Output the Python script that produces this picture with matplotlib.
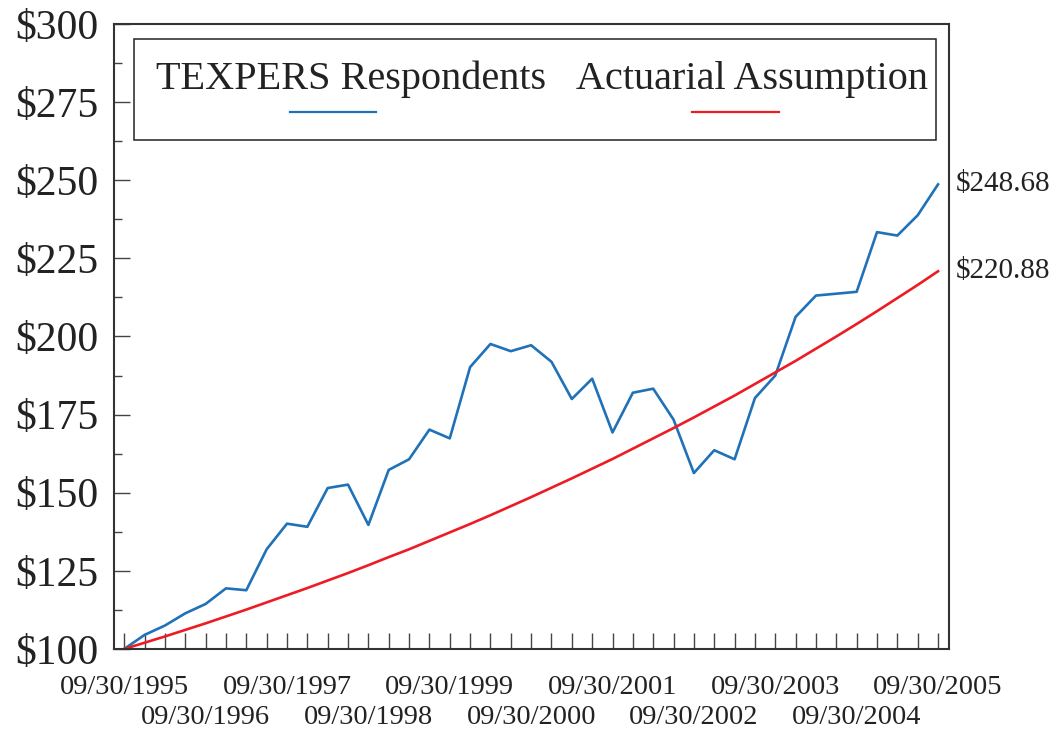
import matplotlib
matplotlib.use("Agg")
import matplotlib.pyplot as plt
import numpy as np
from matplotlib.lines import Line2D
from matplotlib.patches import Rectangle
from matplotlib.ticker import FuncFormatter, MultipleLocator

plt.rcParams["font.family"] = ["Liberation Serif", "DejaVu Serif"]
plt.rcParams["text.color"] = "#222222"
plt.rcParams["xtick.labelcolor"] = "#222222"
plt.rcParams["ytick.labelcolor"] = "#222222"

# quarterly values, 09/30/1995 .. 09/30/2005 (growth of $100)
respondents = [
    100.0, 104.5, 107.5, 111.4, 114.4, 119.4, 118.8, 131.9, 140.1, 139.1,
    151.5, 152.6, 139.7, 157.3, 160.7, 170.2, 167.4, 190.2, 197.6, 195.3,
    197.2, 191.9, 180.0, 186.5, 169.3, 182.0, 183.3, 173.4, 156.3, 163.6,
    160.7, 180.3, 187.5, 206.3, 213.1, 213.7, 214.3, 233.4, 232.3, 238.8,
    248.68,
]
actuarial = [
    100.0, 102.0, 104.0, 106.1, 108.2, 110.4, 112.6, 114.9, 117.2, 119.5,
    121.9, 124.3, 126.8, 129.4, 131.9, 134.6, 137.3, 140.0, 142.8, 145.7,
    148.6, 151.6, 154.6, 157.7, 160.8, 164.1, 167.4, 170.7, 174.1, 177.6,
    181.1, 184.8, 188.5, 192.2, 196.1, 200.0, 204.0, 208.1, 212.3, 216.5,
    220.88,
]
year_labels = [f"09/30/{y}" for y in range(1995, 2006)]
series_names = ["TEXPERS Respondents", "Actuarial Assumption"]
colors = ["#1f72b8", "#ed1c24"]

quarters = np.arange(len(respondents))

fig = plt.figure(figsize=(10.58, 7.30), dpi=100, facecolor="white")
ax = fig.add_axes([0.1078, 0.1110, 0.7892, 0.8561])

ax.plot(quarters, respondents, color=colors[0], lw=1.9)
ax.plot(quarters, actuarial, color=colors[1], lw=1.9)

ax.set_xlim(-0.5, 40.54)
ax.set_ylim(100, 300)

# y axis
ax.yaxis.set_major_locator(MultipleLocator(25))
ax.yaxis.set_minor_locator(MultipleLocator(12.5))
ax.yaxis.set_major_formatter(FuncFormatter(lambda v, p: f"${v:.0f}"))
ax.tick_params(axis="y", which="major", direction="in", length=11.5, width=1,
               color="#444444", labelsize=30, pad=11)
ax.tick_params(axis="y", which="minor", direction="in", length=6, width=1,
               color="#444444")

# x axis: year labels on two alternating rows, quarter ticks
ax.set_xticks(quarters[::4])
ax.set_xticklabels(year_labels)
ax.xaxis.set_minor_locator(MultipleLocator(1))
ax.tick_params(axis="x", which="both", direction="in", length=11.5, width=1,
               color="#444444", labelsize=20.5)
for i, t in enumerate(ax.xaxis.get_major_ticks()):
    t.set_pad(19 if i % 2 == 0 else 40)

for s in ax.spines.values():
    s.set_color("#333333")
    s.set_linewidth(1.5)

# end-value labels
for vals in (respondents, actuarial):
    ax.annotate(f"${vals[-1]:.2f}", xy=(quarters[-1], vals[-1]), xytext=(18, 0),
                textcoords="offset pixels", ha="left", va="center",
                fontsize=21, annotation_clip=False)

# legend box (text above sample line)
ax.add_patch(Rectangle((0.024, 0.814), 0.960, 0.162, transform=ax.transAxes,
                       fill=True, fc="white", ec="#222222", lw=1.1, zorder=5))
for name, c, tx, (x0, x1) in zip(series_names, colors, [0.284, 0.764],
                                 [(0.2108, 0.3138), (0.692, 0.796)]):
    ax.text(tx, 0.896, name, transform=ax.transAxes, ha="center", va="baseline",
            fontsize=29, zorder=6)
    ax.add_line(Line2D([x0, x1], [0.859, 0.859], transform=ax.transAxes,
                       color=c, lw=1.6, zorder=6))

fig.savefig("out.png", dpi=100, facecolor="white")
